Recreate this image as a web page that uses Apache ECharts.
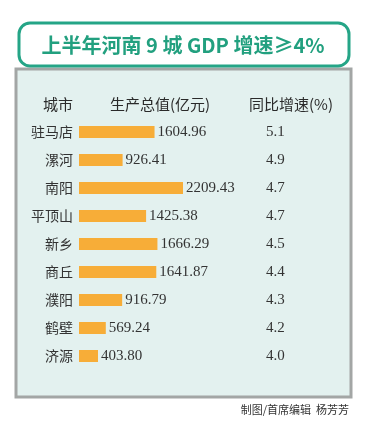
<!DOCTYPE html>
<html><head><meta charset="utf-8">
<script src="https://cdn.jsdelivr.net/npm/echarts@6/dist/echarts.min.js"></script>
<style>html,body{margin:0;padding:0;background:#fff;}#c{width:366px;height:426px;}</style>
</head><body><div id="c"></div>
<script>
const titleText = '上半年河南 9 城 GDP 增速≥4%';
const cities = ['驻马店','漯河','南阳','平顶山','新乡','商丘','濮阳','鹤壁','济源'];
const gdp = [1604.96, 926.41, 2209.43, 1425.38, 1666.29, 1641.87, 916.79, 569.24, 403.80];
const growth = ['5.1','4.9','4.7','4.7','4.5','4.4','4.3','4.2','4.0'];
const headers = ['城市','生产总值(亿元)','同比增速(%)'];
const credit = '制图/首席编辑  杨芳芳';

const chart = echarts.init(document.getElementById('c'), null, {renderer:'canvas'});
const sans = '"Noto Sans CJK SC", "Noto Sans", sans-serif';
const serif = '"Liberation Serif", "DejaVu Serif", serif';
chart.setOption({
  animation:false,
  backgroundColor:'#ffffff',
  graphic:[
    {type:'rect', shape:{x:16,y:69,width:335,height:328}, style:{fill:'#e3f1ef', stroke:'#a3a6a5', lineWidth:3}, z:0},
    {type:'rect', shape:{x:19,y:23,width:330,height:43,r:11}, style:{fill:'#ffffff', stroke:'#25a587', lineWidth:3}, z:1},
    {type:'text', x:183, y:45, style:{text:titleText, fill:'#22a07f', font:'bold 20px '+sans, textAlign:'center', textVerticalAlign:'middle'}, z:2},
    {type:'text', x:58, y:104, style:{text:headers[0], fill:'#2a2a2a', font:'15px '+sans, textAlign:'center', textVerticalAlign:'middle'}, z:2},
    {type:'text', x:160, y:104, style:{text:headers[1], fill:'#2a2a2a', font:'15px '+sans, textAlign:'center', textVerticalAlign:'middle'}, z:2},
    {type:'text', x:291, y:104, style:{text:headers[2], fill:'#2a2a2a', font:'15px '+sans, textAlign:'center', textVerticalAlign:'middle'}, z:2},
    {type:'text', x:349, y:410, style:{text:credit, fill:'#333333', font:'11px '+sans, textAlign:'right', textVerticalAlign:'middle'}, z:2}
  ],
  grid:{left:79, top:118, width:104, height:252, containLabel:false},
  xAxis:{type:'value', min:0, max:Math.max(...gdp), show:false},
  yAxis:[
    {type:'category', data:cities, inverse:true, axisLine:{show:false}, axisTick:{show:false}, splitLine:{show:false},
     axisLabel:{margin:6, color:'#333', fontSize:14, fontFamily:sans}},
    {type:'category', data:growth, inverse:true, position:'right', axisLine:{show:false}, axisTick:{show:false}, splitLine:{show:false},
     axisLabel:{margin:83, align:'left', color:'#333', fontSize:15, fontFamily:serif}}
  ],
  series:[{
    type:'bar', data:gdp, barWidth:12, itemStyle:{color:'#f7ad38'},
    label:{show:true, position:'right', distance:3, color:'#333', fontSize:15, fontFamily:serif,
      formatter:p=>p.value.toFixed(2)}
  }]
});
</script></body></html>
